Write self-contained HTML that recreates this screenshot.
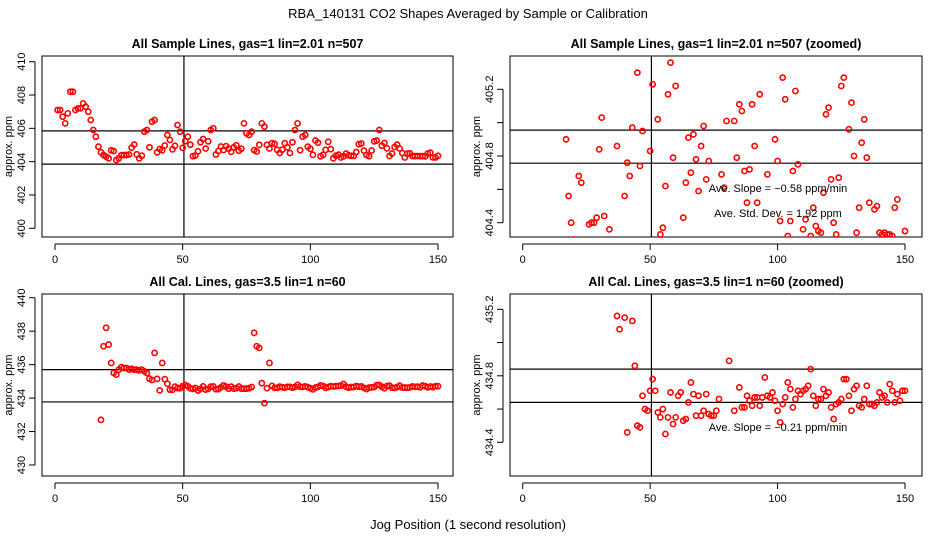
<!DOCTYPE html>
<html><head><meta charset="utf-8"><style>
html,body{margin:0;padding:0;background:#fff;overflow:hidden;width:936px;height:540px;}
svg{display:block;font-family:"Liberation Sans",sans-serif;}
</style></head><body>
<svg id="c" width="936" height="540" viewBox="0 0 936 540">
<text x="468" y="18" text-anchor="middle" font-size="13">RBA_140131  CO2 Shapes Averaged by Sample or Calibration</text>
<text x="468" y="529" text-anchor="middle" font-size="13">Jog Position (1 second resolution)</text>
</svg>
<script>
// Sample lines (x = 1..150)
const sampleStart = 1;
const sampleValues = [407.1,407.1,406.7,406.3,406.9,408.2,408.2,407.1,407.2,407.2,407.5,407.3,407.0,406.5,405.9,405.5,404.9,404.56,404.4,404.3,404.2,404.68,404.64,404.1,404.2,404.39,404.40,404.40,404.43,404.84,405.03,404.44,404.2,404.36,405.8,405.9,404.86,406.4,406.5,404.56,404.76,404.68,404.97,405.6,405.30,404.74,404.95,406.2,405.8,404.83,405.23,405.5,405.02,404.33,404.37,404.62,405.17,405.36,404.79,405.22,405.9,406.0,404.43,404.64,404.91,404.70,404.93,404.78,404.59,404.86,404.98,404.66,404.77,406.3,405.7,405.6,405.8,404.69,404.61,405.01,406.3,406.1,405.01,404.79,405.11,405.07,404.71,404.52,404.72,405.11,404.86,404.52,405.17,405.9,406.3,404.69,405.5,405.6,404.90,404.77,404.41,405.27,405.14,404.32,404.41,404.71,405.19,404.75,404.2,404.36,404.42,404.25,404.32,404.49,404.38,404.35,404.34,404.58,405.05,405.09,404.66,404.40,404.33,404.67,405.22,405.27,405.9,404.96,405.12,404.80,404.34,404.49,404.88,405.02,404.79,404.52,404.25,404.48,404.50,404.34,404.33,404.34,404.33,404.33,404.32,404.49,404.54,404.25,404.25,404.35];
// Calibration lines (x = 18..150)
const calStart = 18;
const calValues = [432.7,437.1,438.2,437.2,436.1,435.5,435.4,435.7,435.85,435.8,435.8,435.7,435.75,435.7,435.7,435.65,435.7,435.6,435.5,435.16,435.08,436.7,435.15,434.46,436.1,435.13,434.86,434.50,434.49,434.68,434.60,434.59,434.71,434.78,434.71,434.58,434.55,434.60,434.45,434.55,434.70,434.51,434.55,434.68,434.70,434.53,434.54,434.64,434.76,434.69,434.56,434.68,434.56,434.59,434.69,434.57,434.56,434.56,434.59,434.66,437.9,437.1,437.0,434.89,433.7,434.59,436.1,434.73,434.61,434.61,434.68,434.65,434.62,434.67,434.67,434.62,434.67,434.79,434.68,434.67,434.70,434.65,434.59,434.52,434.63,434.67,434.76,434.72,434.61,434.66,434.71,434.69,434.71,434.72,434.74,434.84,434.68,434.62,434.66,434.66,434.72,434.68,434.70,434.61,434.54,434.63,434.64,434.66,434.78,434.78,434.68,434.59,434.72,434.74,434.62,434.61,434.66,434.74,434.63,434.63,434.62,434.64,434.70,434.67,434.68,434.64,434.75,434.71,434.64,434.69,434.65,434.71,434.71];
const xTicks = [0,50,100,150];
const p1YTicks = [400,402,404,406,408,410];
const p1YLabels = ["400","402","404","406","408","410"];
const p2YTicks = [404.4,404.6,404.8,405.0,405.2];
const p2YLabels = ["404.4","","404.8","","405.2"];
const p3YTicks = [430,432,434,436,438,440];
const p3YLabels = ["430","432","434","436","438","440"];
const p4YTicks = [434.4,434.6,434.8,435.0,435.2];
const p4YLabels = ["434.4","","434.8","","435.2"];
const p1HLines = [405.85,403.85];
const p2HLines = [404.955,404.757];
const p3HLines = [435.7,433.77];
const p4HLines = [434.84,434.64];
const vLineX = 50.5;

const NS="http://www.w3.org/2000/svg";
const svg=document.getElementById('c');
function mk(tag,attrs,parent){const e=document.createElementNS(NS,tag);for(const k in attrs)e.setAttribute(k,attrs[k]);(parent||svg).appendChild(e);return e;}

const panels=[
 {id:'p1',title:'All Sample Lines, gas=1 lin=2.01 n=507',box:[42,56,453,237],x0:55,x1:438,yv0:400,yp0:228.3,yv1:410,yp1:61.7,yt:p1YTicks,yl:p1YLabels,hl:p1HLines,start:sampleStart,vals:sampleValues,notes:[]},
 {id:'p2',title:'All Sample Lines, gas=1 lin=2.01 n=507 (zoomed)',box:[510,56,922,237],x0:522.7,x1:905,yv0:404.4,yp0:222.7,yv1:405.2,yp1:89.3,yt:p2YTicks,yl:p2YLabels,hl:p2HLines,start:sampleStart,vals:sampleValues,notes:[["Ave. Slope =  \u22120.58  ppm/min",778,192],["Ave. Std. Dev. =  1.92  ppm",778,217]]},
 {id:'p3',title:'All Cal. Lines, gas=3.5 lin=1 n=60',box:[42,294,453,476],x0:55,x1:438,yv0:430,yp0:465,yv1:440,yp1:297.7,yt:p3YTicks,yl:p3YLabels,hl:p3HLines,start:calStart,vals:calValues,notes:[]},
 {id:'p4',title:'All Cal. Lines, gas=3.5 lin=1 n=60 (zoomed)',box:[510,294,922,476],x0:522.7,x1:905,yv0:434.4,yp0:442.3,yv1:435.2,yp1:309.3,yt:p4YTicks,yl:p4YLabels,hl:p4HLines,start:calStart,vals:calValues,notes:[["Ave. Slope =  \u22120.21  ppm/min",778,431]]}
];

panels.forEach(p=>{
 const [L,T,R,B]=p.box;
 const sx=v=>p.x0+(v-0)*(p.x1-p.x0)/150;
 const sy=v=>p.yp0+(v-p.yv0)*(p.yp1-p.yp0)/(p.yv1-p.yv0);
 const g=mk('g',{});
 
 
 const t=mk('text',{x:(L+R)/2,y:T-8,'text-anchor':'middle','font-size':'12.5','font-weight':'bold'},g);
 t.textContent=p.title;
 
 
 const cp=mk('clipPath',{id:'clip-'+p.id},g);
 mk('rect',{x:L,y:T,width:R-L,height:B-T},cp);
 const xa=mk('g',{},g);
 
 
 mk('line',{x1:sx(xTicks[0]),x2:sx(xTicks[xTicks.length-1]),y1:B+7,y2:B+7,stroke:'#000'},xa);
 xTicks.forEach(v=>{
  mk('line',{x1:sx(v),x2:sx(v),y1:B+7,y2:B+13,stroke:'#000'},xa);
  const tl=mk('text',{x:sx(v),y:B+26,'text-anchor':'middle','font-size':'11'},xa);
  tl.textContent=v;
  
  
 });
 const ya=mk('g',{},g);
 
 
 mk('line',{x1:L-7,x2:L-7,y1:sy(p.yt[0]),y2:sy(p.yt[p.yt.length-1]),stroke:'#000'},ya);
 p.yt.forEach((v,i)=>{
  mk('line',{x1:L-13,x2:L-7,y1:sy(v),y2:sy(v),stroke:'#000'},ya);
  if(p.yl[i]){
   const xl=L-17, yl=sy(v);
   const tl=mk('text',{x:xl,y:yl,'text-anchor':'middle','font-size':'11',transform:`rotate(-90 ${xl} ${yl})`},ya);
   tl.textContent=p.yl[i];
   
   
  }
 });
 const yt=mk('text',{x:L-30,y:(T+B)/2,'text-anchor':'middle','font-size':'11',transform:`rotate(-90 ${L-30} ${(T+B)/2})`},g);
 yt.textContent='approx. ppm';
 
 
 const bx=mk('rect',{x:L,y:T,width:R-L,height:B-T,fill:'none',stroke:'#000'},g);
 
 
 p.hl.forEach(v=>{
  const l=mk('line',{x1:L,x2:R,y1:sy(v),y2:sy(v),stroke:'#000','stroke-width':'1.2'},g);
  
  
 });
 const vl=mk('line',{x1:sx(vLineX),x2:sx(vLineX),y1:T,y2:B,stroke:'#000','stroke-width':'1.2'},g);
 
 
 const pts=mk('g',{'clip-path':`url(#clip-${p.id})`},g);
 
 
 p.vals.forEach((v,i)=>{
  const c=mk('circle',{cx:sx(p.start+i),cy:sy(v),r:2.6,fill:'none',stroke:'#ff0000','stroke-width':'1.6'},pts);
  
  
 });
 p.notes.forEach(n=>{
  const tx=mk('text',{x:n[1],y:n[2],'text-anchor':'middle','font-size':'11'},g);
  tx.textContent=n[0];
  
  
 });
});
</script>
</body></html>
